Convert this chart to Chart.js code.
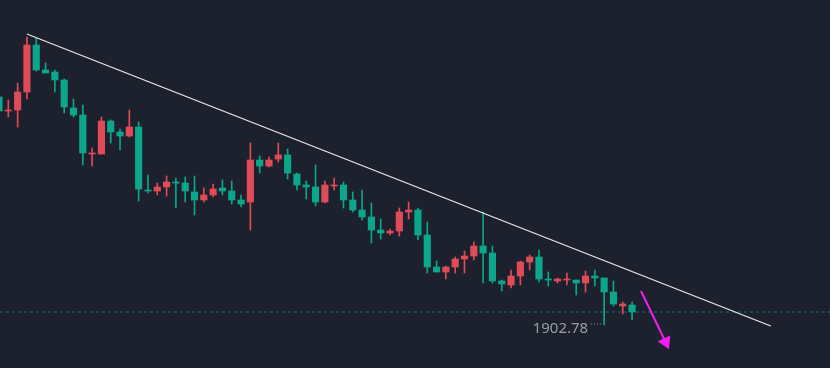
<!DOCTYPE html>
<html>
<head>
<meta charset="utf-8">
<script src="https://cdn.jsdelivr.net/npm/chart.js@4.4.0/dist/chart.umd.min.js"></script>
<style>
  html, body { margin: 0; padding: 0; background: #1c212d; overflow: hidden; }
  #wrap { width: 830px; height: 368px; }
</style>
</head>
<body>
<div id="wrap"><canvas id="chart" width="830" height="368"></canvas></div>
<script>
// OHLC, one entry per candle (index = bar number)
const opens = [
  1948.38, 1945.58, 1945.78, 1949.38, 1958.78, 1953.78, 1953.38, 1951.78, 1946.18, 1944.78,
  1936.98, 1936.98, 1943.58, 1941.38, 1940.58, 1942.38, 1929.78, 1929.58, 1930.38, 1931.38,
  1931.18, 1929.38, 1927.78, 1928.78, 1930.18, 1929.58, 1927.78, 1927.38, 1935.78, 1934.58,
  1935.98, 1936.78, 1932.98, 1930.78, 1930.38, 1927.38, 1930.58, 1930.78, 1927.78, 1925.78,
  1924.38, 1921.78, 1921.18, 1921.58, 1925.38, 1925.78, 1920.78, 1914.38, 1913.38, 1914.38,
  1915.98, 1916.58, 1918.58, 1917.18, 1911.58, 1910.78, 1912.58, 1915.38, 1916.38, 1911.98,
  1911.58, 1911.78, 1911.78, 1911.18, 1912.58, 1912.18, 1909.38, 1906.58, 1906.78,
];
const highs = [
  1948.78, 1947.78, 1951.18, 1960.38, 1960.18, 1955.18, 1953.78, 1951.98, 1947.98, 1946.78,
  1938.18, 1944.38, 1943.78, 1941.98, 1945.78, 1943.38, 1932.78, 1931.18, 1932.58, 1932.18,
  1932.38, 1932.58, 1930.18, 1930.98, 1931.78, 1931.58, 1928.78, 1939.18, 1936.58, 1936.38,
  1939.18, 1937.98, 1933.18, 1931.58, 1934.78, 1931.58, 1932.18, 1931.38, 1929.38, 1929.78,
  1927.18, 1923.98, 1921.98, 1926.18, 1927.38, 1926.18, 1923.38, 1915.58, 1914.58, 1916.38,
  1917.58, 1919.38, 1925.38, 1918.58, 1911.78, 1913.78, 1915.58, 1916.78, 1917.78, 1913.38,
  1912.18, 1913.18, 1911.78, 1913.58, 1913.78, 1912.18, 1911.58, 1907.38, 1907.38,
];
const lows = [
  1945.18, 1944.38, 1942.38, 1947.98, 1953.58, 1953.18, 1949.38, 1945.18, 1944.38, 1934.78,
  1934.58, 1936.98, 1939.18, 1937.78, 1940.38, 1927.58, 1929.18, 1928.78, 1928.58, 1926.18,
  1927.38, 1924.78, 1927.38, 1928.38, 1928.78, 1926.98, 1926.38, 1921.78, 1933.18, 1934.38,
  1935.38, 1931.98, 1929.78, 1927.98, 1926.58, 1927.18, 1929.78, 1926.18, 1925.38, 1923.78,
  1919.18, 1919.98, 1920.78, 1920.58, 1923.98, 1919.78, 1913.18, 1913.38, 1911.98, 1913.18,
  1913.18, 1915.78, 1911.18, 1911.18, 1909.58, 1910.18, 1910.78, 1913.78, 1911.38, 1910.58,
  1911.18, 1910.78, 1908.78, 1909.38, 1910.58, 1902.78, 1906.58, 1904.98, 1903.78,
];
const closes = [
  1945.58, 1945.78, 1949.38, 1958.78, 1953.78, 1953.18, 1951.78, 1946.38, 1944.78, 1937.18,
  1937.18, 1943.58, 1941.38, 1940.58, 1942.38, 1929.98, 1929.58, 1930.38, 1931.38, 1931.18,
  1929.58, 1927.78, 1928.78, 1929.98, 1929.58, 1927.78, 1926.98, 1935.78, 1934.58, 1935.78,
  1936.78, 1933.18, 1930.78, 1930.38, 1927.38, 1930.78, 1930.78, 1927.78, 1925.78, 1924.38,
  1921.78, 1921.18, 1921.58, 1925.38, 1925.78, 1920.78, 1914.38, 1913.38, 1914.38, 1915.98,
  1916.58, 1918.58, 1917.18, 1911.58, 1910.98, 1912.58, 1915.38, 1916.38, 1911.98, 1911.78,
  1911.98, 1911.98, 1911.18, 1912.58, 1912.18, 1909.38, 1906.98, 1906.98, 1905.38,
];

// drawn trendline and arrow (bar index, price)
const trendX = [3, 82.9];
const trendY = [1960.98, 1902.58];
const arrowX = [68.96, 71.6];
const arrowY = [1909.58, 1899.38];

const UP = '#e04b58';
const DOWN = '#0ca68a';
const BG = '#1c212d';

const candleColors = opens.map((o, i) => (closes[i] > opens[i] ? UP : DOWN));
const wicks = lows.map((l, i) => ({ x: i, y: [l, highs[i]] }));
const bodies = opens.map((o, i) => ({ x: i, y: [o, closes[i]] }));
const lastClose = closes[closes.length - 1];

const X_MIN = 0.107;
const X_MAX = 89.26;

// lowest low label with a dotted leader, like the platform draws it
const lowLabel = {
  id: 'lowLabel',
  afterDatasetsDraw(chart) {
    const { ctx, scales: { x, y } } = chart;
    let idx = 0;
    lows.forEach((l, i) => { if (l < lows[idx]) idx = i; });
    const px = x.getPixelForValue(idx);
    const py = y.getPixelForValue(lows[idx]);
    ctx.save();
    ctx.fillStyle = '#9a9ea8';
    for (let dx = 13; dx >= 3; dx -= 3) ctx.fillRect(px - dx, py - 1.5, 1, 1);
    ctx.font = '15px "Noto Sans", sans-serif';
    ctx.textAlign = 'right';
    ctx.textBaseline = 'middle';
    ctx.fillText(lows[idx].toFixed(2), px - 16, py + 4);
    ctx.restore();
  },
};

const bgFill = {
  id: 'bgFill',
  beforeDraw(chart) {
    const { ctx, width, height } = chart;
    ctx.save();
    ctx.fillStyle = BG;
    ctx.fillRect(0, 0, width, height);
    ctx.restore();
  },
};

new Chart(document.getElementById('chart'), {
  type: 'bar',
  data: {
    datasets: [
      {
        type: 'line',
        data: [{ x: X_MIN, y: lastClose }, { x: X_MAX, y: lastClose }],
        borderColor: 'rgba(12,166,138,0.6)',
        borderWidth: 1,
        borderDash: [3, 3],
        pointRadius: 0,
        order: 5,
      },
      {
        data: wicks,
        backgroundColor: candleColors,
        barThickness: 1,
        grouped: false,
        order: 4,
      },
      {
        data: bodies,
        backgroundColor: candleColors,
        barThickness: 6.5,
        minBarLength: 1,
        grouped: false,
        order: 3,
      },
      {
        type: 'line',
        data: trendX.map((v, i) => ({ x: v, y: trendY[i] })),
        borderColor: '#e9e9ec',
        borderWidth: 1.3,
        pointRadius: 0,
        order: 2,
      },
      {
        type: 'line',
        data: arrowX.map((v, i) => ({ x: v, y: arrowY[i] })),
        borderColor: '#f01ef0',
        backgroundColor: '#f01ef0',
        borderWidth: 2,
        pointStyle: 'triangle',
        pointRadius: [0, 8],
        pointRotation: 155,
        pointBorderWidth: 0,
        order: 1,
      },
    ],
  },
  options: {
    responsive: false,
    animation: false,
    layout: { padding: 0, autoPadding: false },
    plugins: { legend: { display: false }, tooltip: { enabled: false } },
    scales: {
      x: { type: 'linear', min: X_MIN, max: X_MAX, offset: false, display: false },
      y: { min: 1894.18, max: 1967.78, display: false },
    },
  },
  plugins: [bgFill, lowLabel],
});
</script>
</body>
</html>
